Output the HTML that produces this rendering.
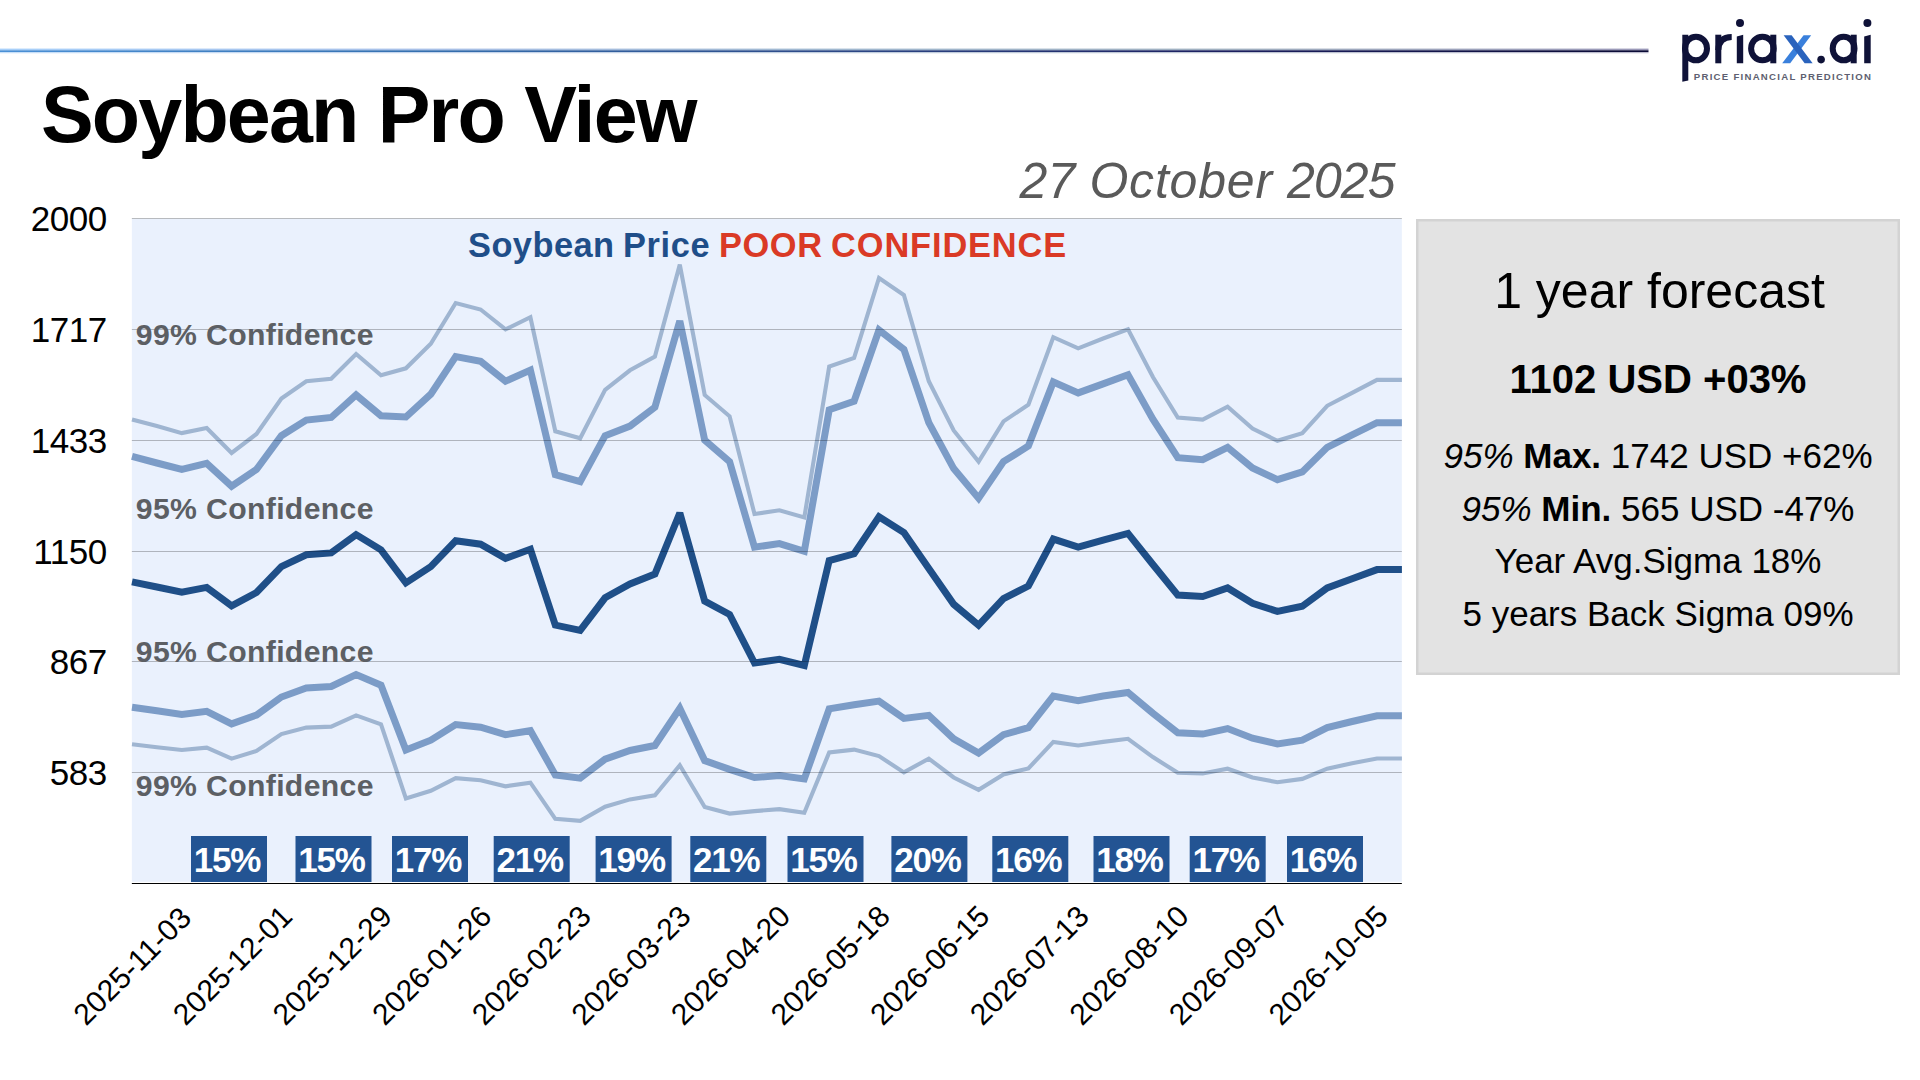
<!DOCTYPE html>
<html><head><meta charset="utf-8"><style>
html,body{margin:0;padding:0;}
body{width:1920px;height:1080px;position:relative;overflow:hidden;background:#fff;font-family:"Liberation Sans",sans-serif;}
</style></head><body>
<svg width="1920" height="1080" viewBox="0 0 1920 1080" style="position:absolute;left:0;top:0"><defs><linearGradient id="tlc" x1="0" y1="0" x2="1649" y2="0" gradientUnits="userSpaceOnUse"><stop offset="0" stop-color="#4a90d6"/><stop offset="0.2547" stop-color="#3570b0"/><stop offset="0.4973" stop-color="#2d4a88"/><stop offset="0.7399" stop-color="#1c2060"/><stop offset="1" stop-color="#0a0a35"/></linearGradient><linearGradient id="tll" x1="0" y1="0" x2="1649" y2="0" gradientUnits="userSpaceOnUse"><stop offset="0" stop-color="#a8d0fa"/><stop offset="0.2547" stop-color="#a8c0e8"/><stop offset="0.4973" stop-color="#a0b8d0"/><stop offset="0.7399" stop-color="#a0b0c0"/><stop offset="1" stop-color="#9a98b8"/></linearGradient></defs><rect x="0" y="48.6" width="1648.5" height="1.7" fill="url(#tll)"/><rect x="0" y="50.3" width="1648.5" height="1.9" fill="url(#tlc)"/><rect x="0" y="52.2" width="1648.5" height="1.2" fill="url(#tll)" opacity="0.45"/><text x="40.9" y="142.4" font-family="Liberation Sans" font-weight="bold" font-size="79" letter-spacing="-1.8" fill="#000">Soybean Pro View</text><text y="197.7" font-family="Liberation Sans" font-style="italic" font-size="50" fill="#5a5a5a"><tspan x="1019.4" letter-spacing="0.3">27</tspan><tspan x="1089.4" letter-spacing="0.8">October</tspan><tspan x="1287.0" letter-spacing="-0.9">2025</tspan></text><rect x="131.85" y="218.5" width="1270" height="663.3" fill="#eaf1fd"/><polyline points="132.0,419.4 156.9,426.0 181.8,433.1 206.7,428.0 231.6,453.0 256.5,434.0 281.4,398.6 306.3,381.3 331.2,378.7 356.1,354.0 381.0,375.3 405.9,368.3 430.8,343.7 455.7,303.0 480.6,309.5 505.5,329.4 530.4,317.2 555.3,431.3 580.2,438.3 605.1,389.8 630.0,370.3 654.9,356.6 679.8,264.6 704.7,395.0 729.6,416.3 754.5,514.0 779.4,510.3 804.3,517.5 829.2,366.5 854.1,357.9 879.0,278.0 903.9,295.0 928.8,381.3 953.7,430.5 978.6,461.6 1003.5,421.4 1028.4,404.6 1053.3,337.2 1078.2,348.3 1103.1,338.5 1128.0,329.4 1152.9,377.0 1177.8,417.5 1202.7,419.6 1227.6,406.6 1252.5,428.6 1277.4,440.8 1302.3,433.1 1327.2,405.8 1352.1,392.9 1377.0,379.9 1401.9,379.9" fill="none" stroke="#9fb5d1" stroke-width="4.1" stroke-linejoin="miter" stroke-miterlimit="2.5"/><polyline points="132.0,744.3 156.9,747.2 181.8,750.0 206.7,747.6 231.6,758.6 256.5,751.0 281.4,734.1 306.3,727.6 331.2,726.6 356.1,715.4 381.0,724.3 405.9,798.5 430.8,790.8 455.7,778.1 480.6,780.2 505.5,786.3 530.4,782.6 555.3,818.9 580.2,820.9 605.1,806.7 630.0,799.4 654.9,795.3 679.8,765.3 704.7,807.1 729.6,813.6 754.5,811.1 779.4,809.1 804.3,812.8 829.2,752.5 854.1,749.6 879.0,756.1 903.9,772.4 928.8,758.6 953.7,777.5 978.6,789.8 1003.5,774.5 1028.4,768.4 1053.3,741.9 1078.2,745.5 1103.1,741.9 1128.0,738.8 1152.9,757.1 1177.8,772.8 1202.7,773.4 1227.6,768.7 1252.5,777.5 1277.4,782.2 1302.3,778.9 1327.2,768.7 1352.1,763.2 1377.0,758.5 1401.9,758.5" fill="none" stroke="#9fb5d1" stroke-width="4.1" stroke-linejoin="miter" stroke-miterlimit="2.5"/><polyline points="132.0,456.4 156.9,463.0 181.8,469.4 206.7,463.4 231.6,486.2 256.5,469.4 281.4,435.7 306.3,420.1 331.2,417.5 356.1,395.0 381.0,415.7 405.9,417.0 430.8,394.2 455.7,356.6 480.6,361.3 505.5,381.3 530.4,370.1 555.3,474.6 580.2,481.6 605.1,435.7 630.0,426.1 654.9,407.2 679.8,320.9 704.7,440.1 729.6,461.6 754.5,547.2 779.4,543.6 804.3,551.3 829.2,409.8 854.1,401.2 879.0,330.0 903.9,349.4 928.8,422.7 953.7,468.6 978.6,498.2 1003.5,461.6 1028.4,446.0 1053.3,382.0 1078.2,392.9 1103.1,383.9 1128.0,374.8 1152.9,419.2 1177.8,457.7 1202.7,459.7 1227.6,447.3 1252.5,468.0 1277.4,479.7 1302.3,471.9 1327.2,447.3 1352.1,434.9 1377.0,422.7 1401.9,422.7" fill="none" stroke="#7c9cc7" stroke-width="7" stroke-linejoin="miter" stroke-miterlimit="2.5"/><polyline points="132.0,707.2 156.9,710.7 181.8,714.4 206.7,711.3 231.6,723.9 256.5,715.0 281.4,697.0 306.3,687.9 331.2,686.5 356.1,674.6 381.0,685.2 405.9,750.0 430.8,740.2 455.7,724.6 480.6,727.2 505.5,734.7 530.4,730.7 555.3,774.9 580.2,778.1 605.1,759.2 630.0,750.5 654.9,745.5 679.8,708.3 704.7,760.6 729.6,769.4 754.5,777.5 779.4,775.5 804.3,779.0 829.2,708.9 854.1,704.8 879.0,701.1 903.9,718.4 928.8,715.4 953.7,738.8 978.6,753.1 1003.5,734.7 1028.4,727.6 1053.3,696.0 1078.2,700.7 1103.1,696.0 1128.0,692.5 1152.9,713.3 1177.8,732.7 1202.7,734.1 1227.6,728.6 1252.5,738.2 1277.4,743.9 1302.3,740.2 1327.2,727.6 1352.1,721.5 1377.0,715.8 1401.9,715.8" fill="none" stroke="#7c9cc7" stroke-width="7" stroke-linejoin="miter" stroke-miterlimit="2.5"/><polyline points="132.0,581.9 156.9,587.0 181.8,592.1 206.7,587.4 231.6,605.9 256.5,592.5 281.4,566.6 306.3,554.8 331.2,552.9 356.1,534.6 381.0,549.8 405.9,582.9 430.8,566.6 455.7,540.7 480.6,544.2 505.5,558.4 530.4,549.3 555.3,625.1 580.2,630.4 605.1,597.8 630.0,584.0 654.9,574.1 679.8,513.0 704.7,601.2 729.6,614.5 754.5,663.0 779.4,659.3 804.3,665.5 829.2,560.5 854.1,553.8 879.0,516.7 903.9,532.6 928.8,568.6 953.7,604.3 978.6,625.1 1003.5,598.6 1028.4,586.0 1053.3,539.1 1078.2,547.2 1103.1,540.1 1128.0,533.4 1152.9,564.5 1177.8,595.1 1202.7,596.5 1227.6,587.9 1252.5,603.2 1277.4,611.4 1302.3,606.3 1327.2,587.9 1352.1,578.8 1377.0,569.6 1401.9,569.6" fill="none" stroke="#1f4f88" stroke-width="7" stroke-linejoin="miter" stroke-miterlimit="2.5"/><line x1="131.85" y1="218.5" x2="1401.85" y2="218.5" stroke="#000" stroke-opacity="0.25" stroke-width="1"/><line x1="131.85" y1="329.5" x2="1401.85" y2="329.5" stroke="#000" stroke-opacity="0.25" stroke-width="1"/><line x1="131.85" y1="440.5" x2="1401.85" y2="440.5" stroke="#000" stroke-opacity="0.25" stroke-width="1"/><line x1="131.85" y1="551.5" x2="1401.85" y2="551.5" stroke="#000" stroke-opacity="0.25" stroke-width="1"/><line x1="131.85" y1="661.5" x2="1401.85" y2="661.5" stroke="#000" stroke-opacity="0.25" stroke-width="1"/><line x1="131.85" y1="772.5" x2="1401.85" y2="772.5" stroke="#000" stroke-opacity="0.25" stroke-width="1"/><line x1="131.85" y1="883.5" x2="1401.85" y2="883.5" stroke="#000" stroke-width="1.2"/><text x="135.8" y="344.7" font-family="Liberation Sans" font-weight="bold" font-size="30.2" letter-spacing="0.35" fill="#5c5f64">99% Confidence</text><text x="135.8" y="518.7" font-family="Liberation Sans" font-weight="bold" font-size="30.2" letter-spacing="0.35" fill="#5c5f64">95% Confidence</text><text x="135.8" y="661.7" font-family="Liberation Sans" font-weight="bold" font-size="30.2" letter-spacing="0.35" fill="#5c5f64">95% Confidence</text><text x="135.8" y="795.9" font-family="Liberation Sans" font-weight="bold" font-size="30.2" letter-spacing="0.35" fill="#5c5f64">99% Confidence</text><text y="256.7" font-family="Liberation Sans" font-weight="bold" font-size="34.4" letter-spacing="0.62"><tspan x="468.0" fill="#1f4e89" letter-spacing="0.45">Soybean</tspan><tspan x="623.0" fill="#1f4e89" letter-spacing="0.62">Price</tspan><tspan x="718.9" fill="#da3a26" letter-spacing="0.62">POOR</tspan><tspan x="831.1" fill="#da3a26" letter-spacing="0.86">CONFIDENCE</tspan></text><rect x="191" y="836" width="76" height="46" fill="#235493"/><text x="227.0" y="871.6" text-anchor="middle" font-family="Liberation Sans" font-weight="bold" font-size="35" letter-spacing="-1.2" fill="#fff">15%</text><rect x="295.5" y="836" width="76" height="46" fill="#235493"/><text x="331.5" y="871.6" text-anchor="middle" font-family="Liberation Sans" font-weight="bold" font-size="35" letter-spacing="-1.2" fill="#fff">15%</text><rect x="392" y="836" width="76" height="46" fill="#235493"/><text x="428.0" y="871.6" text-anchor="middle" font-family="Liberation Sans" font-weight="bold" font-size="35" letter-spacing="-1.2" fill="#fff">17%</text><rect x="493.7" y="836" width="76" height="46" fill="#235493"/><text x="529.7" y="871.6" text-anchor="middle" font-family="Liberation Sans" font-weight="bold" font-size="35" letter-spacing="-1.2" fill="#fff">21%</text><rect x="595.6" y="836" width="76" height="46" fill="#235493"/><text x="631.6" y="871.6" text-anchor="middle" font-family="Liberation Sans" font-weight="bold" font-size="35" letter-spacing="-1.2" fill="#fff">19%</text><rect x="690.3" y="836" width="76" height="46" fill="#235493"/><text x="726.3" y="871.6" text-anchor="middle" font-family="Liberation Sans" font-weight="bold" font-size="35" letter-spacing="-1.2" fill="#fff">21%</text><rect x="787.5" y="836" width="76" height="46" fill="#235493"/><text x="823.5" y="871.6" text-anchor="middle" font-family="Liberation Sans" font-weight="bold" font-size="35" letter-spacing="-1.2" fill="#fff">15%</text><rect x="891.4" y="836" width="76" height="46" fill="#235493"/><text x="927.4" y="871.6" text-anchor="middle" font-family="Liberation Sans" font-weight="bold" font-size="35" letter-spacing="-1.2" fill="#fff">20%</text><rect x="992.3" y="836" width="76" height="46" fill="#235493"/><text x="1028.3" y="871.6" text-anchor="middle" font-family="Liberation Sans" font-weight="bold" font-size="35" letter-spacing="-1.2" fill="#fff">16%</text><rect x="1093.5" y="836" width="76" height="46" fill="#235493"/><text x="1129.5" y="871.6" text-anchor="middle" font-family="Liberation Sans" font-weight="bold" font-size="35" letter-spacing="-1.2" fill="#fff">18%</text><rect x="1189.7" y="836" width="76" height="46" fill="#235493"/><text x="1225.7" y="871.6" text-anchor="middle" font-family="Liberation Sans" font-weight="bold" font-size="35" letter-spacing="-1.2" fill="#fff">17%</text><rect x="1287" y="836" width="76" height="46" fill="#235493"/><text x="1323.0" y="871.6" text-anchor="middle" font-family="Liberation Sans" font-weight="bold" font-size="35" letter-spacing="-1.2" fill="#fff">16%</text><text x="106.7" y="231.10" text-anchor="end" font-family="Liberation Sans" font-size="35" letter-spacing="-0.45" fill="#000">2000</text><text x="106.7" y="341.90" text-anchor="end" font-family="Liberation Sans" font-size="35" letter-spacing="-0.45" fill="#000">1717</text><text x="106.7" y="452.70" text-anchor="end" font-family="Liberation Sans" font-size="35" letter-spacing="-0.45" fill="#000">1433</text><text x="106.7" y="563.50" text-anchor="end" font-family="Liberation Sans" font-size="35" letter-spacing="-0.45" fill="#000">1150</text><text x="106.7" y="674.30" text-anchor="end" font-family="Liberation Sans" font-size="35" letter-spacing="-0.45" fill="#000">867</text><text x="106.7" y="785.10" text-anchor="end" font-family="Liberation Sans" font-size="35" letter-spacing="-0.45" fill="#000">583</text><text x="0" y="0" transform="translate(86.00,1026.7) rotate(-45)" font-family="Liberation Sans" font-size="30" fill="#000">2025-11-03</text><text x="0" y="0" transform="translate(185.60,1026.7) rotate(-45)" font-family="Liberation Sans" font-size="30" fill="#000">2025-12-01</text><text x="0" y="0" transform="translate(285.20,1026.7) rotate(-45)" font-family="Liberation Sans" font-size="30" fill="#000">2025-12-29</text><text x="0" y="0" transform="translate(384.80,1026.7) rotate(-45)" font-family="Liberation Sans" font-size="30" fill="#000">2026-01-26</text><text x="0" y="0" transform="translate(484.40,1026.7) rotate(-45)" font-family="Liberation Sans" font-size="30" fill="#000">2026-02-23</text><text x="0" y="0" transform="translate(584.00,1026.7) rotate(-45)" font-family="Liberation Sans" font-size="30" fill="#000">2026-03-23</text><text x="0" y="0" transform="translate(683.60,1026.7) rotate(-45)" font-family="Liberation Sans" font-size="30" fill="#000">2026-04-20</text><text x="0" y="0" transform="translate(783.20,1026.7) rotate(-45)" font-family="Liberation Sans" font-size="30" fill="#000">2026-05-18</text><text x="0" y="0" transform="translate(882.80,1026.7) rotate(-45)" font-family="Liberation Sans" font-size="30" fill="#000">2026-06-15</text><text x="0" y="0" transform="translate(982.40,1026.7) rotate(-45)" font-family="Liberation Sans" font-size="30" fill="#000">2026-07-13</text><text x="0" y="0" transform="translate(1082.00,1026.7) rotate(-45)" font-family="Liberation Sans" font-size="30" fill="#000">2026-08-10</text><text x="0" y="0" transform="translate(1181.60,1026.7) rotate(-45)" font-family="Liberation Sans" font-size="30" fill="#000">2026-09-07</text><text x="0" y="0" transform="translate(1281.20,1026.7) rotate(-45)" font-family="Liberation Sans" font-size="30" fill="#000">2026-10-05</text><rect x="1417.25" y="220.25" width="481.5" height="453.5" fill="#e3e3e3" stroke="#d3d3d3" stroke-width="2.5"/><text x="1659.5" y="308.3" text-anchor="middle" font-family="Liberation Sans" font-size="50" fill="#000">1 year forecast</text><text x="1658" y="393.1" text-anchor="middle" font-family="Liberation Sans" font-weight="bold" font-size="40" fill="#000">1102 USD +03%</text><text x="1658" y="467.75" text-anchor="middle" font-family="Liberation Sans" font-size="35" fill="#000"><tspan font-style="italic">95%</tspan> <tspan font-weight="bold">Max.</tspan> 1742 USD +62%</text><text x="1658" y="520.7" text-anchor="middle" font-family="Liberation Sans" font-size="35" fill="#000"><tspan font-style="italic">95%</tspan> <tspan font-weight="bold">Min.</tspan> 565 USD -47%</text><text x="1658" y="573.3" text-anchor="middle" font-family="Liberation Sans" font-size="35" fill="#000">Year Avg.Sigma 18%</text><text x="1658" y="625.9" text-anchor="middle" font-family="Liberation Sans" font-size="35" fill="#000">5 years Back Sigma 09%</text><path d="M1682.3,34.7 L1688.3,34.7 L1688.3,80.6 L1682.3,81.8 Z" fill="#0f1238"/><ellipse cx="1696" cy="48.5" rx="11" ry="11.8" fill="none" stroke="#0f1238" stroke-width="6.0"/><rect x="1715.3" y="34.7" width="6" height="28.6" fill="#0f1238"/><path d="M1718.3,50 Q1718.8,37 1731.7,37" fill="none" stroke="#0f1238" stroke-width="6.0"/><path d="M1736.8,36.6 L1743.2,34.7 L1743.2,63.3 L1736.8,63.3 Z" fill="#0f1238"/><circle cx="1740" cy="23" r="4" fill="#0f1238"/><ellipse cx="1762.4" cy="48.5" rx="11.3" ry="11.8" fill="none" stroke="#0f1238" stroke-width="6.0"/><rect x="1770.3" y="34.7" width="6" height="28.6" fill="#0f1238"/><path d="M1803.6,35.2 L1811.2,35.2 L1790.2,63.3 L1782.2,63.3 Z" fill="#3a80dc"/><path d="M1783.6,35.2 L1791.6,35.2 L1812.6,63.3 L1804.6,63.3 Z" fill="#2a63bd"/><circle cx="1821.1" cy="59.6" r="3.8" fill="#0f1238"/><ellipse cx="1843.6" cy="48.5" rx="10.9" ry="11.8" fill="none" stroke="#0f1238" stroke-width="6.0"/><rect x="1850.7" y="34.7" width="6" height="28.6" fill="#0f1238"/><path d="M1864.2,36.6 L1870.7,34.7 L1870.7,63.3 L1864.2,63.3 Z" fill="#0f1238"/><circle cx="1867.4" cy="23" r="4" fill="#0f1238"/><text x="1693.8" y="80.3" font-family="Liberation Sans" font-weight="bold" font-size="9.6" letter-spacing="1.27" fill="#5e5f70">PRICE FINANCIAL PREDICTION</text></svg>
</body></html>
